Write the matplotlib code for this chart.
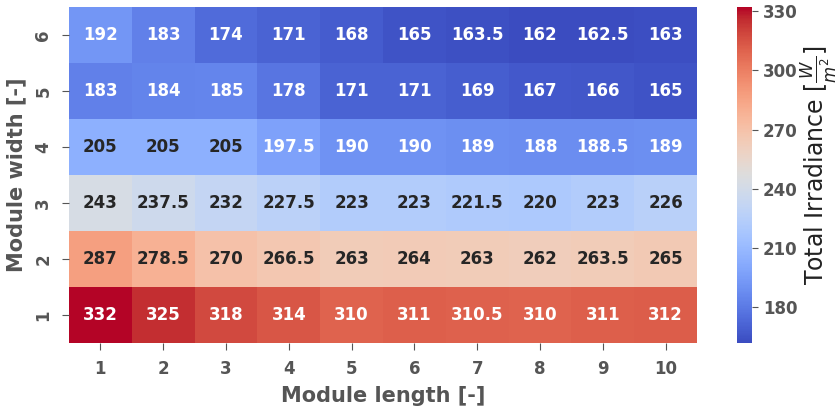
import numpy as np
import matplotlib
matplotlib.use('Agg')
import matplotlib.pyplot as plt
import seaborn as sns

module_lengths = [1, 2, 3, 4, 5, 6, 7, 8, 9, 10]
module_widths = [6, 5, 4, 3, 2, 1]

# total irradiance per module size, rows ordered from width 6 down to width 1
width_6 = [192, 183, 174, 171, 168, 165, 163.5, 162, 162.5, 163]
width_5 = [183, 184, 185, 178, 171, 171, 169, 167, 166, 165]
width_4 = [205, 205, 205, 197.5, 190, 190, 189, 188, 188.5, 189]
width_3 = [243, 237.5, 232, 227.5, 223, 223, 221.5, 220, 223, 226]
width_2 = [287, 278.5, 270, 266.5, 263, 264, 263, 262, 263.5, 265]
width_1 = [332, 325, 318, 314, 310, 311, 310.5, 310, 311, 312]

irradiance = np.array([width_6, width_5, width_4, width_3, width_2, width_1])

fig = plt.figure(figsize=(8.4, 4.09), dpi=100)
ax = fig.add_axes([69 / 840, 1 - 343 / 409, 628 / 840, 336 / 409])
cax = fig.add_axes([737 / 840, 1 - 343 / 409, 15 / 840, 336 / 409])

sns.heatmap(irradiance, ax=ax, cbar_ax=cax, cmap='coolwarm', annot=True, fmt='g',
            annot_kws={'fontsize': 12, 'fontweight': 'bold'},
            xticklabels=module_lengths, yticklabels=module_widths)

tick_color = '#555555'
ax.set_xlabel('Module length [-]', fontsize=15, fontweight='bold', color=tick_color, labelpad=6)
ax.set_ylabel('Module width [-]', fontsize=15, fontweight='bold', color=tick_color, labelpad=6)
ax.tick_params(axis='both', colors=tick_color, labelsize=12, length=5, pad=7)
for lbl in ax.get_xticklabels() + ax.get_yticklabels():
    lbl.set_fontweight('bold')
plt.setp(ax.get_yticklabels(), rotation=90, va='center')

cax.set_yticks([180, 210, 240, 270, 300, 330])
cax.tick_params(colors=tick_color, labelsize=12, length=4, pad=4)
for lbl in cax.get_yticklabels():
    lbl.set_fontweight('bold')
cax.set_ylabel(r'Total Irradiance [$\frac{W}{m^2}$]', fontsize=17, color='#222222')
cax.yaxis.set_label_coords(4.1, 0.53)

fig.savefig('out.png', dpi=100)
